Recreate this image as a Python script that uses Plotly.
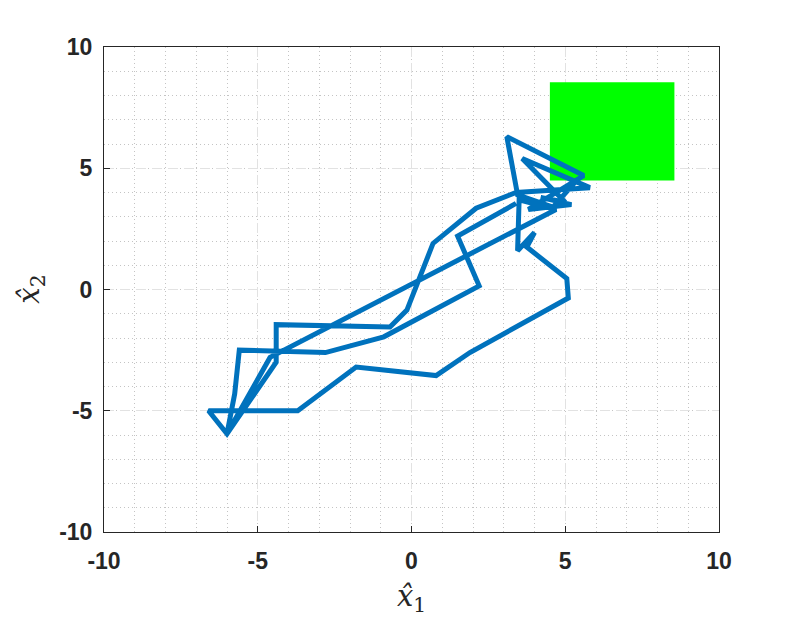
import plotly.graph_objects as go

# target set (green box)
box_x = [4.5, 8.55]
box_y = [4.5, 8.55]

# estimated trajectory
traj_x = [3.4, 2.05, 1.5, 2.2, -0.9, -2.8, -5.6, -5.75, -6.0, -4.6, 3.4, 4.7, 3.5, 3.45,
          4.0, 3.75, 5.05, 5.1, 1.9, 0.8, -1.8, -3.7, -6.6, -6.0, -4.4, -4.4, -0.7, -0.15,
          0.7, 2.1, 3.4, 5.8, 3.6, 5.0, 4.2, 5.2, 3.8, 5.6, 3.1, 3.45, 4.6, 5.3]
traj_y = [3.55, 2.6, 2.2, 0.15, -1.95, -2.6, -2.5, -4.3, -5.95, -2.8, 2.4, 3.3, 3.7, 1.6,
          2.35, 1.75, 0.45, -0.35, -2.6, -3.55, -3.2, -5.0, -5.0, -5.95, -3.0, -1.45, -1.55, -0.85,
          1.9, 3.35, 4.0, 4.2, 5.4, 3.6, 3.8, 3.5, 3.3, 4.7, 6.3, 3.9, 3.4, 4.4]

tick_vals = [-10, -5, 0, 5, 10]
tick_text = ["-10", "-5", "0", "5", "10"]

fig = go.Figure()
fig.add_trace(go.Scatter(
    x=[box_x[0], box_x[1], box_x[1], box_x[0], box_x[0]],
    y=[box_y[0], box_y[0], box_y[1], box_y[1], box_y[0]],
    fill="toself", fillcolor="#00FF00", mode="lines",
    line=dict(width=0, color="#00FF00"), hoverinfo="skip",
))
fig.add_trace(go.Scatter(
    x=traj_x, y=traj_y, mode="lines",
    line=dict(color="#0072BD", width=5),
))

axis_common = dict(
    range=[-10, 10], tickvals=tick_vals, ticktext=tick_text,
    showline=True, linecolor="#262626", linewidth=1, mirror=True,
    ticks="inside", ticklen=6, tickcolor="#262626",
    showgrid=True, gridcolor="#e2e2e2", griddash="10px,6px", gridwidth=1,
    zeroline=False, automargin=False,
    tickfont=dict(family="Liberation Sans", size=23, color="#262626", weight="bold"),
    minor=dict(dtick=1, showgrid=True, gridcolor="#c4c4c4", griddash="1px,3px", gridwidth=1),
)
fig.update_xaxes(**axis_common, ticklabelstandoff=8)
fig.update_yaxes(**axis_common, ticklabelstandoff=6)

lab_font = dict(family="DejaVu Serif", size=29, color="#262626")
fig.add_annotation(text="<i>x̂</i><sub>1</sub>", xref="paper", yref="paper",
                   x=0.5, y=-0.137, xanchor="center", yanchor="middle",
                   showarrow=False, font=lab_font)
fig.add_annotation(text="<i>x̂</i><sub>2</sub>", xref="paper", yref="paper",
                   x=-0.12, y=0.5, xanchor="center", yanchor="middle",
                   showarrow=False, textangle=-90, font=lab_font)

# the page adds an 8px body margin, so margins are trimmed to land on the same pixels
fig.update_layout(
    width=797, height=617,
    margin=dict(l=96, r=86, t=39, b=93),
    plot_bgcolor="white", paper_bgcolor="white",
    showlegend=False,
)
fig.write_html("out.html")
